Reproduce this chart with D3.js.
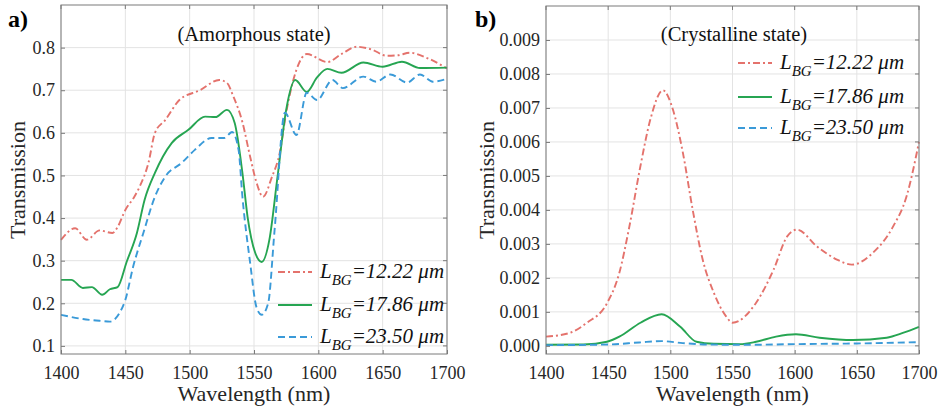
<!DOCTYPE html>
<html>
<head>
<meta charset="utf-8">
<script src="https://cdn.jsdelivr.net/npm/d3@7"></script>
</head>
<body style="margin:0;background:#fff">
<svg width="944" height="417"></svg>
<script>
// wavelength ticks shared by both panels
let wlTicks = [1400, 1450, 1500, 1550, 1600, 1650, 1700]
let amTicks = [0.1, 0.2, 0.3, 0.4, 0.5, 0.6, 0.7, 0.8]
let crTicks = [0, 0.001, 0.002, 0.003, 0.004, 0.005, 0.006, 0.007, 0.008, 0.009]

let legendLabels = ["=12.22 μm", "=17.86 μm", "=23.50 μm"]

// panel a) amorphous state
let amWl1 = [1400,1411,1420,1430,1440,1444,1450,1457,1461,1468,1473,1481,1492,1508,1523,1529,1534,1541,1547,1552,1557,1564,1570,1575,1583,1591,1607,1618,1630,1642,1653,1662,1671,1685,1700]
let amT1  = [0.349,0.376,0.349,0.371,0.365,0.379,0.419,0.45,0.473,0.53,0.6,0.63,0.677,0.70,0.724,0.717,0.685,0.625,0.544,0.483,0.45,0.497,0.553,0.647,0.748,0.785,0.766,0.785,0.802,0.795,0.781,0.782,0.788,0.775,0.751]

let amWl2 = [1400,1408,1417,1424,1432,1438,1444,1451,1459,1465,1473,1486,1499,1512,1520,1529,1535,1541,1545,1551,1556,1562,1568,1575,1582,1591,1599,1607,1618,1635,1650,1665,1679,1700]
let amT2  = [0.255,0.255,0.236,0.238,0.22,0.233,0.238,0.297,0.365,0.443,0.506,0.576,0.607,0.638,0.637,0.654,0.623,0.506,0.403,0.318,0.297,0.35,0.49,0.654,0.724,0.696,0.73,0.75,0.741,0.765,0.755,0.767,0.752,0.753]

let amWl3 = [1400,1417,1430,1438,1446,1450,1456,1464,1473,1481,1494,1504,1517,1527,1533,1538,1541,1547,1552,1556,1561,1566,1574,1583,1591,1599,1611,1619,1635,1645,1656,1669,1679,1689,1700]
let amT3  = [0.173,0.163,0.159,0.157,0.18,0.208,0.285,0.365,0.45,0.497,0.53,0.56,0.588,0.588,0.602,0.56,0.45,0.295,0.19,0.173,0.2,0.372,0.647,0.595,0.694,0.677,0.724,0.705,0.732,0.72,0.737,0.718,0.737,0.72,0.727]

// panel b) crystalline state
let crWl1 = [1400,1419,1433,1449,1459,1467,1476,1484,1494,1502,1510,1518,1526,1535,1545,1550,1569,1583,1594,1602,1618,1634,1646,1663,1679,1690,1700]
let crT1  = [0.00027,0.00038,0.00068,0.00125,0.00215,0.0035,0.0053,0.00667,0.00752,0.00696,0.0057,0.004,0.00254,0.00156,0.00086,0.00068,0.00127,0.00224,0.00322,0.00342,0.00292,0.00254,0.00239,0.00274,0.0035,0.0044,0.006]

let crWl2 = [1400,1430,1449,1459,1476,1493,1508,1521,1535,1556,1569,1585,1601,1620,1647,1674,1687,1700]
let crT2  = [0.00003,0.00004,0.00012,0.00027,0.00068,0.00093,0.00056,0.00012,0.00006,0.00005,0.00012,0.00027,0.00034,0.00024,0.00017,0.00024,0.00038,0.00056]

let crWl3 = [1400,1450,1475,1493,1510,1530,1560,1600,1650,1700]
let crT3  = [0.00002,0.00004,0.0001,0.00014,0.00008,0.00004,0.00003,0.00005,0.00007,0.00011]

let colors = ["#e4726c", "#26a552", "#3a9ad8"]
let dashes = ["7,3,2,3", null, "7,4"]

let svg = d3.select("svg")

function panel(opt) {
  let x = d3.scaleLinear().domain([1400, 1700]).range([opt.left, opt.right])
  let y = d3.scaleLinear().domain(opt.yDomain).range([354, opt.top])
  let g = svg.append("g")

  // grid
  g.selectAll(".gx").data(wlTicks).enter().append("line")
    .attr("x1", d => x(d)).attr("x2", d => x(d))
    .attr("y1", opt.top).attr("y2", 354)
    .attr("stroke", "#e3e3e3").attr("stroke-width", 1)
  g.selectAll(".gy").data(opt.yTicks).enter().append("line")
    .attr("y1", d => y(d)).attr("y2", d => y(d))
    .attr("x1", opt.left).attr("x2", opt.right)
    .attr("stroke", "#e3e3e3").attr("stroke-width", 1)

  // curves
  let line = d3.line().x(d => x(d[0])).y(d => y(d[1])).curve(d3.curveMonotoneX)
  opt.series.forEach((s, i) => {
    g.append("path")
      .attr("d", line(d3.zip(s[0], s[1])))
      .attr("fill", "none")
      .attr("stroke", colors[i])
      .attr("stroke-width", 1.9)
      .attr("stroke-dasharray", dashes[i])
  })

  // axes
  let xAxis = d3.axisBottom(x).tickValues(wlTicks).tickSize(-4).tickPadding(12).tickFormat(d3.format("d"))
  let yAxis = d3.axisLeft(y).tickValues(opt.yTicks).tickSize(-4).tickPadding(6).tickFormat(opt.fmt)
  let gx = g.append("g").attr("transform", "translate(0,354)").call(xAxis)
  let gy = g.append("g").attr("transform", "translate(" + opt.left + ",0)").call(yAxis)
  ;[gx, gy].forEach(a => {
    a.attr("font-family", null).attr("font-size", null)
    a.select(".domain").remove()
    a.selectAll("line").attr("stroke", "#7a7a7a")
    a.selectAll("text").attr("fill", "#262626").style("font-size", "18px")
  })
  // right-side/top ticks
  g.selectAll(".tr").data(opt.yTicks).enter().append("line")
    .attr("x1", opt.right).attr("x2", opt.right - 4)
    .attr("y1", d => y(d)).attr("y2", d => y(d)).attr("stroke", "#7a7a7a")
  g.selectAll(".tt").data(wlTicks).enter().append("line")
    .attr("y1", opt.top).attr("y2", opt.top + 4)
    .attr("x1", d => x(d)).attr("x2", d => x(d)).attr("stroke", "#7a7a7a")

  g.append("rect")
    .attr("x", opt.left).attr("y", opt.top)
    .attr("width", opt.right - opt.left).attr("height", 354 - opt.top)
    .attr("fill", "none").attr("stroke", "#7a7a7a").attr("stroke-width", 1)

  // labels
  g.append("text").attr("x", (opt.left + opt.right) / 2).attr("y", 401)
    .attr("text-anchor", "middle").attr("fill", "#262626")
    .style("font-size", "22px")
    .text("Wavelength (nm)")
  g.append("text")
    .attr("transform", "translate(" + opt.yLabelX + ",180) rotate(-90)")
    .attr("text-anchor", "middle").attr("fill", "#262626")
    .style("font-size", "22px")
    .text("Transmission")
  g.append("text").attr("x", opt.titleX).attr("y", 41)
    .attr("text-anchor", "middle").attr("fill", "#111")
    .style("font-size", "20.5px")
    .text(opt.title)
  g.append("text").attr("x", opt.tagX).attr("y", 27)
    .attr("fill", "#000")
    .style("font-size", "24px").style("font-weight", "bold")
    .text(opt.tag)

  // legend
  opt.legendY.forEach((ly, i) => {
    g.append("line")
      .attr("x1", opt.legendX).attr("x2", opt.legendX + 34)
      .attr("y1", ly).attr("y2", ly)
      .attr("stroke", colors[i]).attr("stroke-width", 1.9)
      .attr("stroke-dasharray", dashes[i])
    let t = g.append("text").attr("x", opt.legendX + 42).attr("y", ly + 6)
      .attr("fill", "#111")
      .style("font-size", "21px").style("font-style", "italic")
    t.append("tspan").text("L")
    t.append("tspan").attr("dy", 7).style("font-size", "15px").text("BG")
    t.append("tspan").attr("dy", -7).text(legendLabels[i])
  })
}

panel({
  left: 61, right: 447, top: 5,
  yDomain: [0.081, 0.9], yTicks: amTicks, fmt: d3.format(".1f"),
  series: [[amWl1, amT1], [amWl2, amT2], [amWl3, amT3]],
  title: "(Amorphous state)", titleX: 254, tag: "a)", tagX: 8, yLabelX: 25,
  legendX: 278, legendY: [272, 305, 337]
})

panel({
  left: 546, right: 919, top: 6,
  yDomain: [-0.00024, 0.01], yTicks: crTicks, fmt: d3.format(".3f"),
  series: [[crWl1, crT1], [crWl2, crT2], [crWl3, crT3]],
  title: "(Crystalline state)", titleX: 734, tag: "b)", tagX: 475, yLabelX: 494,
  legendX: 738, legendY: [63, 97, 128]
})

// serif face for every label, set inline with priority
svg.selectAll("text, tspan").each(function () {
  this.style.setProperty("font-family", "'Liberation Serif', serif", "important")
})
</script>
</body>
</html>
